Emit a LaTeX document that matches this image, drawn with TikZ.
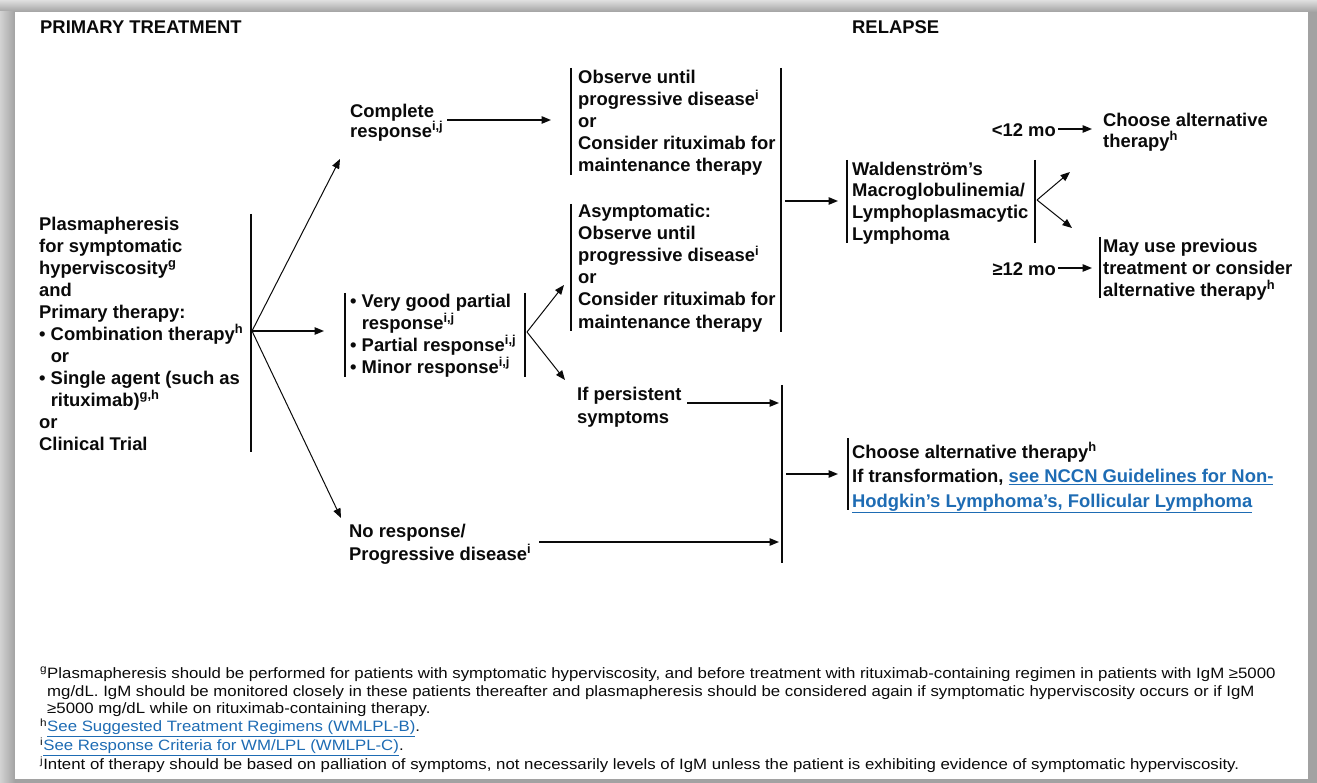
\documentclass[tikz,border=0pt]{standalone}
\usepackage{fontspec}
\setmainfont{Liberation Sans}
\newfontfamily\footfont[FakeStretch=1.12]{Liberation Sans}
\usetikzlibrary{arrows.meta}
\definecolor{linkblue}{RGB}{30,108,180}
\definecolor{shadowgray}{RGB}{162,162,162}
\definecolor{inkblack}{RGB}{10,10,10}
\newcommand{\fs}{\rule{0pt}{17pt}}
\newcommand{\lnk}[1]{\textcolor{linkblue}{\underline{#1}}}
\newcommand{\supx}[1]{\textsuperscript{#1}}
\newcommand{\bul}{\textbullet\ }
\newcommand{\ind}{\hphantom{\textbullet\ }}
\begin{document}
\begin{tikzpicture}[x=1pt,y=-1pt,
  txt/.style={anchor=north west, inner sep=0pt, align=left, text=inkblack,
    font=\fontsize{18.4}{#1}\selectfont\bfseries},
  txt/.default=22,
  foot/.style={anchor=north west, inner sep=0pt, align=left, text=inkblack,
    font=\footfont\fontsize{15}{17.8}\selectfont},
  bar/.style={line width=1.2pt, draw=inkblack},
  arr/.style={line width=1.3pt, draw=inkblack, -{Triangle[length=9.5pt,width=7.5pt]}},
  thinarr/.style={line width=1pt, draw=inkblack, -{Triangle[length=9.5pt,width=7.5pt]}}]
\useasboundingbox (0,0) rectangle (1317,783);
% page and shadow
\fill[shadowgray] (0,0) rectangle (1317,783);
\shade[top color=gray!25, bottom color=shadowgray] (0,0) rectangle (1317,12);
\shade[left color=gray!35, right color=shadowgray] (0,12) rectangle (15,783);
\fill[white] (15,12) rectangle (1308,779);

% headers
\node[txt] (hdrL) at (40,16) {\fs PRIMARY TREATMENT};
\node[txt] (hdrR) at (852,16) {\fs RELAPSE};

% primary treatment block
\node[txt] (prim) at (39,213) {\fs Plasmapheresis\\for symptomatic\\hyperviscosity\supx{g}\\and\\Primary therapy:\\\bul Combination therapy\supx{h}\\\ind or\\\bul Single agent (such as\\\ind rituximab)\supx{g,h}\\or\\Clinical Trial};
\coordinate (pvT) at (251,214);
\coordinate (pvB) at (251,452);
\draw[bar] (pvT) -- (pvB);
\coordinate (pvM) at (252,331);

% responses
\node[txt=20] (cr) at (350,100) {\fs Complete\\response\supx{i,j}};
\node[txt] (pr) at (350,290) {\fs \bul Very good partial\\\ind response\supx{i,j}\\\bul Partial response\supx{i,j}\\\bul Minor response\supx{i,j}};
\coordinate (prLT) at (345,293);
\coordinate (prLB) at (345,377);
\coordinate (prRT) at (525,293);
\coordinate (prRB) at (525,377);
\draw[bar] (prLT) -- (prLB);
\draw[bar] (prRT) -- (prRB);
\node[txt=23] (nr) at (349,520) {\fs No response/\\Progressive disease\supx{i}};

\coordinate (crTip) at (340,159);
\coordinate (prTip) at (324,331);
\coordinate (nrTip) at (341,518);
\draw[thinarr] (pvM) -- (crTip);
\draw[arr] (pvM) -- (prTip);
\draw[thinarr] (pvM) -- (nrTip);

% observe boxes
\node[txt=22.2] (obs1) at (578,66) {\fs Observe until\\progressive disease\supx{i}\\or\\Consider rituximab for\\maintenance therapy};
\coordinate (o1T) at (571,68);
\coordinate (o1B) at (571,175);
\draw[bar] (o1T) -- (o1B);
\coordinate (crOut) at (447,120);
\coordinate (o1In) at (551,120);
\draw[arr] (crOut) -- (o1In);

\node[txt=22.2] (obs2) at (578,200) {\fs Asymptomatic:\\Observe until\\progressive disease\supx{i}\\or\\Consider rituximab for\\maintenance therapy};
\coordinate (o2T) at (571,204);
\coordinate (o2B) at (571,331);
\draw[bar] (o2T) -- (o2B);

\coordinate (oRT) at (781,68);
\coordinate (oRB) at (781,332);
\draw[bar] (oRT) -- (oRB);

\coordinate (prV) at (527,332);
\coordinate (o2Tip) at (564,285);
\coordinate (psTip) at (565,380);
\draw[thinarr] (prV) -- (o2Tip);
\draw[thinarr] (prV) -- (psTip);

\node[txt=23] (ps) at (577,383) {\fs If persistent\\symptoms};
\coordinate (psOut) at (687,403);
\coordinate (bigIn1) at (779,403);
\draw[arr] (psOut) -- (bigIn1);
\coordinate (nrOut) at (539,542);
\coordinate (bigIn2) at (779,542);
\draw[arr] (nrOut) -- (bigIn2);
\coordinate (bigT) at (782,385);
\coordinate (bigB) at (782,563);
\draw[bar] (bigT) -- (bigB);

% alternative therapy box
\node[txt=24.5] (alt) at (852,441) {\fs Choose alternative therapy\supx{h}\\If transformation, \lnk{see NCCN Guidelines for Non-}\\\lnk{Hodgkin’s Lymphoma’s, Follicular Lymphoma}};
\coordinate (altT) at (848,438);
\coordinate (altB) at (848,510);
\draw[bar] (altT) -- (altB);
\coordinate (bigOut) at (786,474);
\coordinate (altIn) at (838,474);
\draw[arr] (bigOut) -- (altIn);

% Waldenstrom box
\coordinate (oOut) at (785,201);
\coordinate (wmIn) at (838,201);
\draw[arr] (oOut) -- (wmIn);
\node[txt=21.7] (wm) at (852,158) {\fs Waldenström’s\\Macroglobulinemia/\\Lymphoplasmacytic\\Lymphoma};
\coordinate (wmLT) at (847,160);
\coordinate (wmLB) at (847,243);
\coordinate (wmRT) at (1035,160);
\coordinate (wmRB) at (1035,243);
\draw[bar] (wmLT) -- (wmLB);
\draw[bar] (wmRT) -- (wmRB);
\coordinate (wmV) at (1037,200);
\coordinate (upTip) at (1070,172);
\coordinate (dnTip) at (1072,228);
\draw[thinarr] (wmV) -- (upTip);
\draw[thinarr] (wmV) -- (dnTip);

% relapse timing
\node[txt, anchor=north east] (lt) at (1056,119) {\fs <12 mo};
\coordinate (ltOut) at (1058,129);
\coordinate (chIn) at (1092,129);
\draw[arr] (ltOut) -- (chIn);
\node[txt=21] (ch) at (1103,109) {\fs Choose alternative\\therapy\supx{h}};

\node[txt, anchor=north east] (ge) at (1056,258) {\fs ≥12 mo};
\coordinate (geOut) at (1058,268);
\coordinate (muIn) at (1092,268);
\draw[arr] (geOut) -- (muIn);
\node[txt] (mu) at (1103,235) {\fs May use previous\\treatment or consider\\alternative therapy\supx{h}};
\coordinate (muT) at (1100,237);
\coordinate (muB) at (1100,298);
\draw[bar] (muT) -- (muB);

% footnotes
\node[foot] (fn) at (40,661) {\fs \supx{g}Plasmapheresis should be performed for patients with symptomatic hyperviscosity, and before treatment with rituximab-containing regimen in patients with IgM ≥5000\\\hphantom{\supx{g}}mg/dL. IgM should be monitored closely in these patients thereafter and plasmapheresis should be considered again if symptomatic hyperviscosity occurs or if IgM\\\hphantom{\supx{g}}≥5000 mg/dL while on rituximab-containing therapy.\\\supx{h}\lnk{See Suggested Treatment Regimens (WMLPL-B)}.\\\supx{i}\lnk{See Response Criteria for WM/LPL (WMLPL-C)}.\\\supx{j}Intent of therapy should be based on palliation of symptoms, not necessarily levels of IgM unless the patient is exhibiting evidence of symptomatic hyperviscosity.};
\end{tikzpicture}
\end{document}
